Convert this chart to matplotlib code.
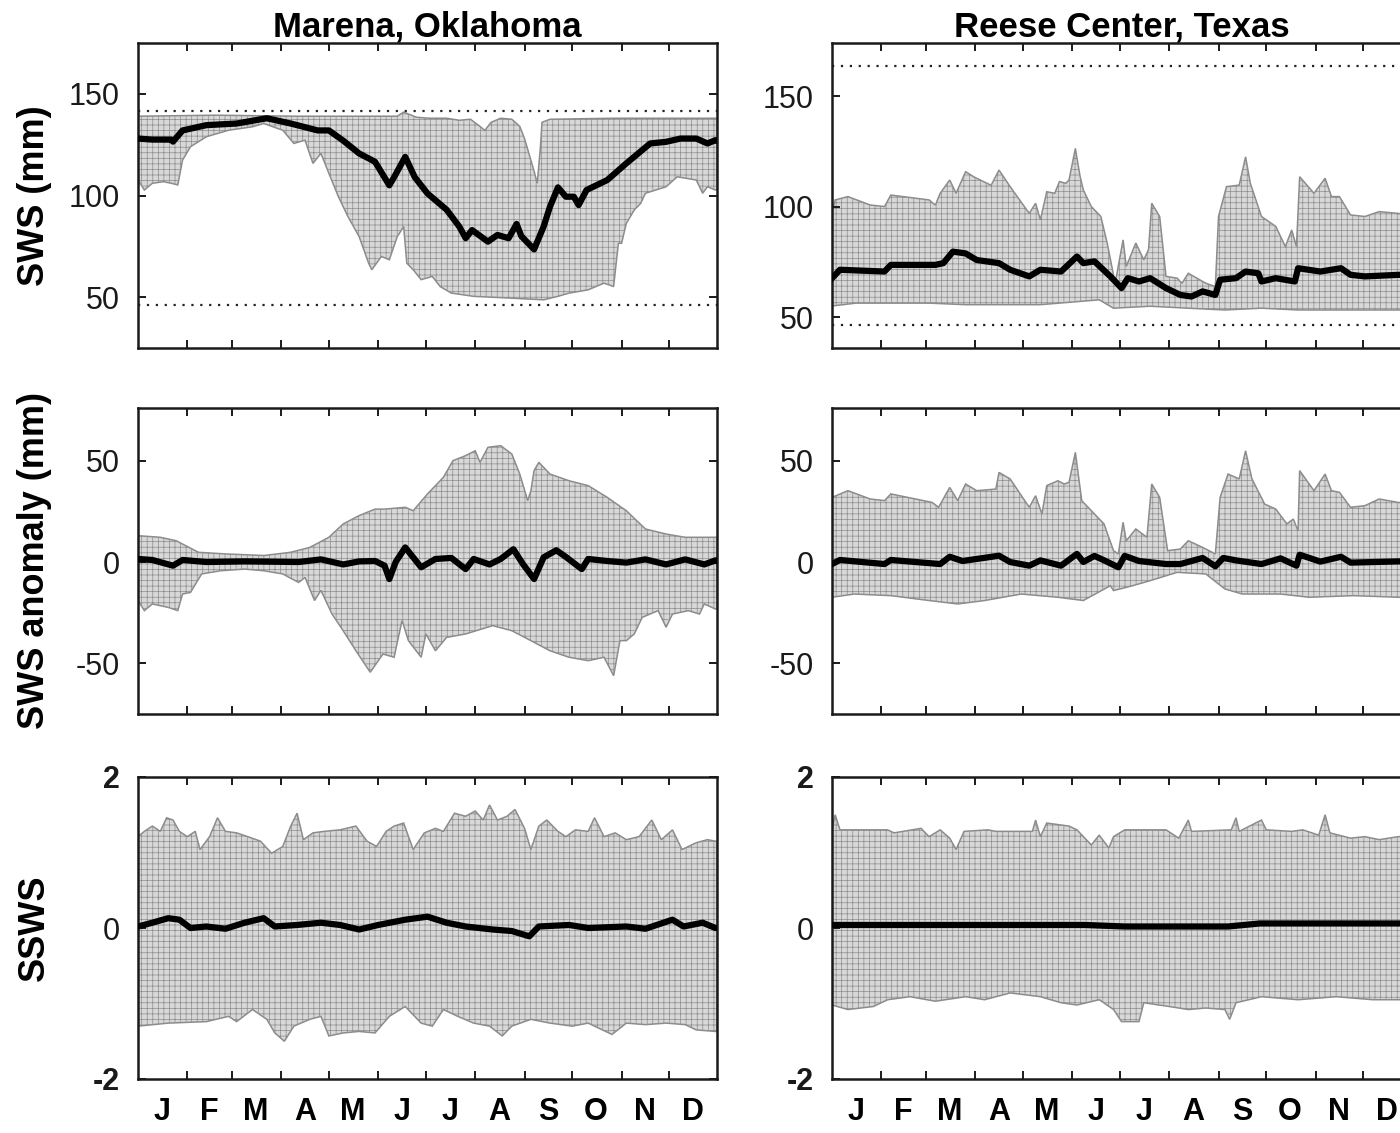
import numpy as np
import matplotlib
matplotlib.use("Agg")
import matplotlib.pyplot as plt

plt.rcParams['font.family'] = ['Liberation Sans', 'DejaVu Sans']
plt.rcParams['axes.unicode_minus'] = False
plt.rcParams['hatch.linewidth'] = 0.5

months = list("JFMAMJJASOND")
month_start = [32, 60, 91, 121, 152, 182, 213, 244, 274, 305, 335]
month_mid = [16, 46, 75, 106, 136, 167, 197, 228, 259, 289, 320, 350]

# (day of year, value)
# --- Marena, Oklahoma ---
mar_fc, mar_wp = 141.5, 46.0
mar_sws_mean = [(1, 128), (10, 127.5), (22, 127.5), (23, 126.5), (29, 132), (44, 134.6),
                (63, 135.4), (82, 138), (97, 135.4), (114, 132), (121, 132), (130, 127),
                (140, 120.7), (150, 116.6), (159, 105), (162, 109), (169, 119), (175, 109),
                (183, 101), (195, 93), (203, 84.7), (207, 79), (211, 83), (221, 77.3),
                (227, 80.6), (234, 79), (239, 86), (242, 80), (250, 73.5), (256, 84.7),
                (260, 94.5), (265, 104), (270, 99.4), (275, 99.4), (278, 95.3), (283, 102.7),
                (296, 107.6), (308, 115.8), (323, 125.6), (333, 126.4), (342, 128), (352, 128),
                (359, 125.6), (364, 127.2), (365, 127)]
mar_sws_hi = [(1, 139), (50, 139.5), (100, 139), (150, 139), (164, 139), (168, 141),
              (176, 138.5), (184, 138), (195, 138), (203, 137), (210, 137.5), (216, 134),
              (219, 132), (223, 136), (229, 138), (236, 137.5), (241, 134), (244, 128),
              (247, 120), (250, 112), (252, 106), (254, 124), (255, 136), (260, 137.5),
              (300, 138), (365, 138)]
mar_sws_lo = [(1, 107.6), (5, 102.7), (10, 106), (17, 106.8), (22, 106), (26, 105.2),
              (29, 117.4), (34, 124), (44, 128.9), (58, 132.1), (73, 133.8), (80, 135.4),
              (92, 132.1), (99, 125.6), (106, 127.2), (111, 115.8), (116, 120.7), (121, 110.9),
              (127, 99.4), (133, 89.6), (140, 79.8), (146, 66.7), (148, 63.5), (154, 70),
              (159, 68.4), (164, 79.8), (168, 84.7), (170, 66.7), (174, 63.5), (179, 58.6),
              (186, 60.2), (191, 55.2), (198, 52), (212, 50.4), (236, 49.5), (256, 48.7),
              (265, 50.4), (272, 52), (284, 53.6), (294, 56.9), (300, 55.2), (303, 76.5),
              (305, 76.5), (308, 86.3), (313, 92.9), (317, 96.1), (320, 101.1), (333, 104.3),
              (340, 109.2), (352, 107.6), (356, 101.1), (359, 104.3), (364, 102.7), (365, 103)]

mar_anom_mean = [(1, 1.5), (10, 1), (23, -1.8), (29, 1), (44, 0), (68, 0.3), (102, 0),
                 (116, 1.3), (130, -1.2), (140, 0.3), (150, 0.5), (156, -1.8), (159, -8.4),
                 (163, 0), (169, 7.2), (174, 2.3), (179, -2.6), (188, 1.5), (198, 2),
                 (207, -3.5), (212, 1.5), (222, -1.2), (229, 1.5), (237, 6.3), (243, -1),
                 (250, -8.4), (256, 2.3), (264, 5.8), (270, 2.5), (280, -3.5), (284, 1.5),
                 (296, 0.5), (308, -0.3), (320, 1.3), (333, -1.2), (345, 1.3), (357, -1.2),
                 (364, 0.8), (365, 0.5)]
mar_anom_hi = [(1, 13), (15, 12.2), (25, 10.5), (39, 4.8), (56, 4), (80, 3.2), (97, 4.8),
               (109, 7.2), (121, 12.2), (130, 18.8), (140, 22.9), (150, 26.1), (156, 26.1),
               (169, 27), (174, 25.3), (183, 33.6), (193, 41.8), (199, 50), (207, 52.5),
               (213, 54.9), (216, 49.2), (221, 56.6), (229, 57.4), (236, 53.3), (241, 43.4),
               (246, 30.3), (248, 35.2), (250, 45.1), (253, 49.2), (260, 43.4), (272, 40.1),
               (284, 37.7), (296, 31.9), (308, 25.3), (320, 16.3), (333, 13.8), (345, 12.2),
               (365, 12.2)]
mar_anom_lo = [(1, -19), (5, -24), (10, -20.7), (20, -22.4), (26, -24), (29, -15.8),
               (34, -15), (41, -5.9), (53, -4.3), (68, -3.5), (80, -4.3), (92, -5.9),
               (102, -10.1), (106, -7.6), (112, -19), (116, -14), (123, -25.7), (130, -33.9),
               (138, -43.8), (147, -54.4), (155, -45.4), (162, -47), (167, -28.9), (171, -38.8),
               (179, -47), (182, -35.5), (188, -43.8), (195, -37.2), (207, -35.5), (224, -31.4),
               (236, -33.9), (248, -38.8), (260, -43.8), (272, -47), (284, -48.7), (294, -47),
               (300, -56.1), (304, -38.8), (308, -38.8), (313, -35.5), (318, -27.3), (328, -24),
               (333, -32.2), (337, -25.7), (347, -24), (354, -25.7), (357, -20.7), (364, -23.2),
               (365, -23)]

mar_ssws_mean = [(1, 0.02), (10, 0.07), (20, 0.13), (27, 0.11), (34, 0), (44, 0.02),
                 (56, -0.01), (68, 0.07), (80, 0.13), (87, 0.02), (101, 0.04), (116, 0.07),
                 (128, 0.04), (140, -0.02), (152, 0.04), (169, 0.11), (183, 0.15), (195, 0.07),
                 (207, 0.02), (224, -0.02), (236, -0.04), (247, -0.11), (253, 0.02), (272, 0.04),
                 (284, 0), (308, 0.02), (320, -0.01), (337, 0.11), (344, 0.02), (356, 0.07),
                 (364, 0), (365, 0)]
mar_ssws_hi = [(1, 1.21), (5, 1.28), (10, 1.35), (15, 1.28), (19, 1.46), (23, 1.43), (27, 1.28),
               (32, 1.21), (37, 1.28), (40, 1.04), (46, 1.21), (51, 1.46), (56, 1.28), (63, 1.26),
               (70, 1.21), (78, 1.15), (85, 0.99), (92, 1.08), (97, 1.35), (101, 1.52), (105, 1.17),
               (111, 1.26), (118, 1.28), (128, 1.30), (138, 1.35), (145, 1.15), (151, 1.08),
               (157, 1.28), (162, 1.35), (168, 1.39), (174, 1.04), (181, 1.26), (188, 1.32),
               (193, 1.28), (200, 1.52), (207, 1.48), (213, 1.55), (218, 1.43), (222, 1.63),
               (227, 1.43), (233, 1.48), (238, 1.57), (244, 1.32), (248, 1.04), (253, 1.35),
               (258, 1.43), (265, 1.28), (270, 1.21), (276, 1.30), (284, 1.28), (288, 1.46),
               (294, 1.21), (301, 1.26), (308, 1.17), (316, 1.21), (324, 1.43), (330, 1.17),
               (337, 1.30), (343, 1.04), (352, 1.13), (359, 1.17), (364, 1.15), (365, 1.15)]
mar_ssws_lo = [(1, -1.30), (20, -1.26), (44, -1.24), (58, -1.17), (63, -1.24), (73, -1.08),
               (82, -1.21), (87, -1.39), (93, -1.50), (99, -1.30), (109, -1.21), (116, -1.17),
               (121, -1.43), (130, -1.39), (140, -1.37), (150, -1.39), (159, -1.17), (169, -1.04),
               (179, -1.26), (186, -1.30), (193, -1.08), (202, -1.17), (212, -1.26), (222, -1.30),
               (230, -1.43), (236, -1.30), (248, -1.21), (260, -1.26), (274, -1.30), (284, -1.26),
               (299, -1.41), (308, -1.26), (320, -1.28), (333, -1.26), (345, -1.28), (352, -1.35),
               (364, -1.37), (365, -1.37)]

# --- Reese Center, Texas ---
ree_fc, ree_wp = 163.5, 46.5
ree_sws_mean = [(1, 67.6), (6, 71.4), (34, 70.6), (38, 73.6), (66, 73.6), (71, 74.4), (77, 79.6),
                (85, 78.8), (92, 75.8), (106, 74.4), (113, 71.4), (125, 68.4), (132, 71.4),
                (145, 70.6), (155, 77.4), (159, 74.4), (166, 75.2), (176, 68.4), (183, 63.1),
                (187, 67.6), (194, 66.1), (201, 67.6), (211, 63.1), (220, 60), (227, 59.3),
                (234, 61.6), (242, 60), (245, 66.9), (255, 67.6), (261, 70.6), (269, 69.8),
                (271, 66.1), (280, 67.6), (292, 66.1), (294, 72.1), (308, 70.6), (321, 72.1),
                (327, 69.1), (336, 68.4), (357, 69.1), (365, 69)]
ree_sws_hi = [(1, 97.7), (3, 103), (11, 104.5), (25, 100.7), (34, 100), (38, 105.2), (62, 103),
              (66, 100.7), (69, 106), (75, 112), (79, 106), (85, 115.8), (90, 113.5), (101, 109.6),
              (106, 116.5), (113, 109), (125, 96.9), (129, 101.5), (132, 94), (136, 106.7),
              (141, 106), (144, 111.3), (148, 110.5), (150, 112), (154, 126.3), (157, 113.5),
              (159, 107.5), (164, 100), (170, 95.5), (174, 83.5), (179, 65.3), (184, 84.9),
              (186, 72.9), (192, 83.5), (197, 75.9), (200, 80.5), (202, 101.5), (207, 95.5),
              (211, 68.4), (218, 67.6), (221, 65.3), (225, 69.8), (236, 65.3), (242, 63.8),
              (244, 95.5), (249, 109), (257, 109.7), (261, 122.5), (264, 110.5), (271, 95.5),
              (280, 91), (286, 81.9), (290, 89.4), (293, 81.9), (295, 113.5), (304, 106),
              (311, 112.8), (315, 104.5), (320, 104.5), (327, 96.2), (336, 95.5), (345, 97.7),
              (357, 96.9), (365, 96)]
ree_sws_lo = [(1, 55), (16, 56.3), (62, 56.3), (85, 55.6), (132, 55.6), (169, 57.8), (178, 54),
              (201, 54.9), (225, 54), (248, 53.2), (271, 54), (294, 53.2), (320, 53.2), (365, 53.2)]

ree_anom_mean = [(1, -1), (6, 1), (34, -1), (38, 1), (69, -1), (75, 2.6), (83, 0.5), (106, 3.1),
                 (113, 0), (125, -1.8), (132, 0.8), (145, -1.8), (155, 4), (159, 0), (166, 3),
                 (173, 0.5), (181, -2.6), (185, 3), (194, 0.5), (211, -1), (220, -1), (234, 2),
                 (242, -2.1), (247, 2), (255, 0.8), (271, -1), (283, 1.8), (293, -1.8), (295, 3.6),
                 (308, 0.2), (321, 2.6), (327, -0.3), (357, 0.3), (365, 0.3)]
ree_anom_hi = [(1, 31.9), (11, 35.2), (25, 31.1), (34, 30.3), (38, 33.6), (64, 29.4), (68, 27),
               (75, 36.8), (80, 30.3), (85, 38.5), (92, 35.2), (104, 36), (106, 44.2), (113, 41),
               (125, 27), (129, 32.7), (133, 23.7), (136, 37.7), (143, 40.1), (147, 38.5),
               (150, 39.3), (154, 54.1), (158, 30.3), (166, 23.7), (172, 18.8), (178, 5.6),
               (181, 4), (184, 19.6), (186, 10.5), (192, 16.3), (199, 12.2), (202, 38.5),
               (207, 31.9), (212, 5.6), (220, 6.4), (225, 10.5), (234, 7.2), (242, 4), (245, 31.9),
               (250, 43.4), (257, 41), (261, 54.9), (265, 41), (273, 28.6), (280, 26.1),
               (287, 18.8), (291, 21.2), (294, 15.5), (295, 45.1), (304, 35.2), (311, 43.4),
               (315, 35.2), (320, 34.4), (327, 27), (336, 27.8), (345, 31.1), (357, 29.4), (365, 29)]
ree_anom_lo = [(1, -17.4), (15, -15.8), (38, -16.6), (62, -19), (80, -20.7), (97, -19),
               (120, -15.8), (143, -17.4), (159, -19), (176, -11.7), (178, -14.1), (190, -11.7),
               (201, -9.2), (218, -5.1), (236, -5.9), (248, -13.3), (259, -15.8), (283, -15.8),
               (301, -17.4), (329, -16.6), (357, -17.4), (365, -17.4)]

ree_ssws_mean = [(1, 0.04), (160, 0.04), (185, 0.02), (250, 0.02), (270, 0.06), (365, 0.06)]
ree_ssws_hi = [(1, 1.30), (3, 1.50), (6, 1.30), (36, 1.30), (40, 1.26), (57, 1.32), (62, 1.21),
               (69, 1.30), (75, 1.19), (79, 1.04), (84, 1.28), (99, 1.30), (104, 1.28), (127, 1.28),
               (129, 1.43), (132, 1.21), (136, 1.39), (150, 1.35), (155, 1.30), (164, 1.10),
               (169, 1.23), (175, 1.06), (178, 1.21), (185, 1.30), (211, 1.30), (219, 1.19),
               (225, 1.43), (227, 1.28), (252, 1.30), (255, 1.46), (257, 1.28), (271, 1.43),
               (274, 1.30), (290, 1.28), (297, 1.30), (307, 1.23), (311, 1.50), (314, 1.26),
               (327, 1.19), (336, 1.21), (345, 1.17), (357, 1.21), (365, 1.21)]
ree_ssws_lo = [(1, -1.02), (11, -1.08), (27, -1.04), (36, -0.95), (50, -0.91), (66, -0.97),
               (85, -0.91), (97, -0.95), (113, -0.86), (132, -0.91), (145, -0.99), (155, -1.02),
               (169, -0.95), (178, -1.08), (183, -1.24), (194, -1.24), (197, -0.99), (213, -1.04),
               (225, -1.08), (236, -1.06), (248, -1.08), (251, -1.21), (255, -0.99), (271, -0.91),
               (294, -0.95), (318, -0.91), (341, -0.95), (357, -0.95), (365, -0.95)]


def draw_panel(ax, mean, hi, lo, refs=()):
    hd, hv = np.array(hi).T
    ld, lv = np.array(lo).T
    px = np.concatenate([hd, ld[::-1]])
    py = np.concatenate([hv, lv[::-1]])
    ax.fill(px, py, facecolor='#d8d8d8', edgecolor='#8c8c8c', hatch='+++', lw=1.1, zorder=1)
    for r in refs:
        ax.axhline(r, color='#222222', ls=(0, (1, 3)), lw=1.6, zorder=2)
    md, mv = np.array(mean).T
    ax.plot(md, mv, color='black', lw=4.5, solid_joinstyle='round', zorder=4)


def style_axes(ax, ylim, yticks, bottom):
    ax.set_xlim(1, 365)
    ax.set_ylim(*ylim)
    ax.set_yticks(yticks)
    ax.set_xticks(month_start)
    ax.set_xticks(month_mid, minor=True)
    ax.set_xticklabels([])
    ax.tick_params(which='major', direction='in', length=6, width=1.4,
                   top=True, right=True, labelsize=22, pad=13, colors='#1a1a1a')
    ax.tick_params(axis='x', which='minor', length=0, pad=13)
    if bottom:
        ax.set_xticklabels(months, minor=True, fontsize=22, fontweight='bold')
    else:
        ax.set_xticklabels([], minor=True)
    for sp in ax.spines.values():
        sp.set_linewidth(1.8)
        sp.set_color('#1a1a1a')


fig = plt.figure(figsize=(14, 11.33), dpi=100)
col_left = [138 / 1400, 832 / 1400]
col_w = 579 / 1400
rows = [(1 - 348 / 1133, 305 / 1133), (1 - 714 / 1133, 306 / 1133), (1 - 1079 / 1133, 302 / 1133)]

panels = [
    [(mar_sws_mean, mar_sws_hi, mar_sws_lo, (mar_fc, mar_wp), (25, 175), [50, 100, 150]),
     (ree_sws_mean, ree_sws_hi, ree_sws_lo, (ree_fc, ree_wp), (36, 174), [50, 100, 150])],
    [(mar_anom_mean, mar_anom_hi, mar_anom_lo, (), (-75, 76), [-50, 0, 50]),
     (ree_anom_mean, ree_anom_hi, ree_anom_lo, (), (-75, 76), [-50, 0, 50])],
    [(mar_ssws_mean, mar_ssws_hi, mar_ssws_lo, (), (-2, 2), [-2, 0, 2]),
     (ree_ssws_mean, ree_ssws_hi, ree_ssws_lo, (), (-2, 2), [-2, 0, 2])],
]
titles = ['Marena, Oklahoma', 'Reese Center, Texas']
ylabels = ['SWS (mm)', 'SWS anomaly (mm)', 'SSWS']

for r, (bot, h) in enumerate(rows):
    for c, left in enumerate(col_left):
        ax = fig.add_axes([left, bot, col_w, h])
        mean, hi, lo, refs, ylim, yticks = panels[r][c]
        draw_panel(ax, mean, hi, lo, refs)
        style_axes(ax, ylim, yticks, bottom=(r == 2))
        if r == 0:
            ax.set_title(titles[c], fontsize=25, fontweight='bold', pad=4)
        if c == 0:
            ax.set_ylabel(ylabels[r], fontsize=26, fontweight='bold')
            ax.yaxis.set_label_coords(-0.148, 0.5)
        if r == 2:
            # the +-2 labels are printed bold in the original
            for lab, v in zip(ax.get_yticklabels(), yticks):
                if v != 0:
                    lab.set_fontweight('bold')

fig.savefig('out.png', dpi=100)
